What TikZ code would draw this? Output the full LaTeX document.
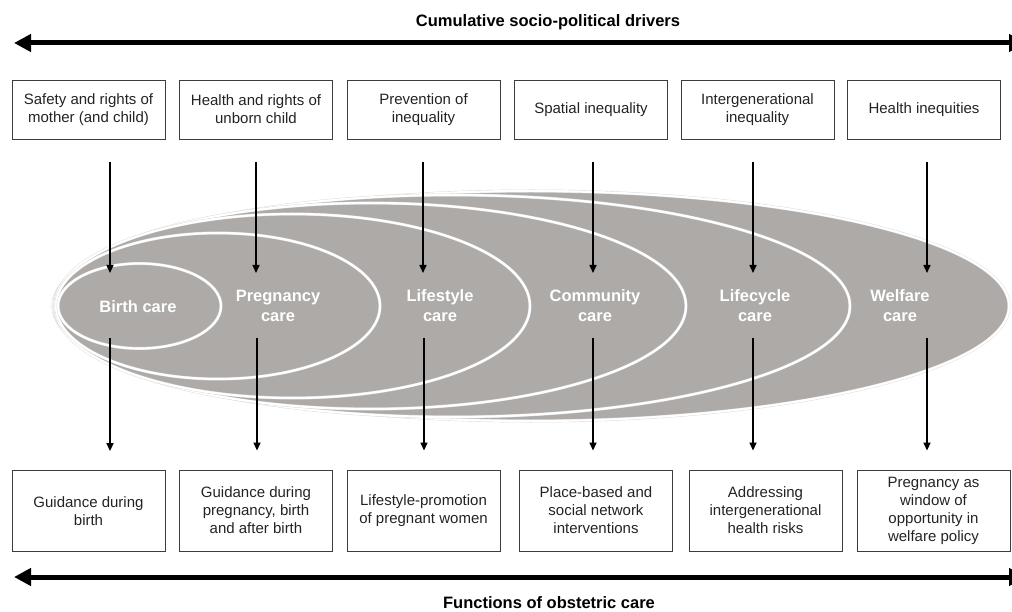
\documentclass[tikz,border=0pt]{standalone}
\usepackage{fontspec}
\setmainfont{Liberation Sans}
\usetikzlibrary{shapes.geometric,arrows.meta}
\definecolor{caregray}{RGB}{173,170,168}
\definecolor{boxline}{RGB}{60,60,60}
\definecolor{ink}{RGB}{35,35,35}

\begin{document}
\begin{tikzpicture}
[every node/.style={inner sep=0pt},
 box/.style={rectangle, draw=boxline, line width=0.9pt, minimum width=153pt, align=center, text=ink, font=\fontsize{15}{18}\selectfont},
 drvbox/.style={box, minimum height=59pt},
 fnbox/.style={box, minimum height=81pt},
 ring/.style={ellipse, fill=caregray, draw=black!15, line width=0.4pt, double=white, double distance=2.2pt},
 care/.style={align=center, text=white, font=\fontsize{16.5}{20}\selectfont\bfseries},
 heading/.style={text=black, font=\fontsize{16.5}{20}\selectfont\bfseries},
 drop/.style={line width=1.5pt, -{Triangle[length=8pt,width=7pt]}, color=black},
 spine/.style={line width=5pt, {Triangle[length=17pt,width=17pt]}-{Triangle[length=17pt,width=17pt]}, color=black}]
\useasboundingbox (0pt, 0pt) rectangle (1012pt, -612pt);
\node (top) [heading] at (548pt, -22pt) {Cumulative socio-political drivers};
\node (bottom) [heading] at (549pt, -603pt) {Functions of obstetric care};
\coordinate (tl) at (14pt, -43pt);
\coordinate (tr) at (1026pt, -43pt);
\coordinate (bl) at (14pt, -577pt);
\coordinate (br) at (1026pt, -577pt);
\draw [spine] (tl) to (tr);
\draw [spine] (bl) to (br);
\node (d1) [drvbox] at (88.5pt, -109.5pt) {Safety and rights of\\mother (and child)};
\node (d2) [drvbox] at (256pt, -109.5pt) {Health and rights of\\unborn child};
\node (d3) [drvbox] at (423.5pt, -109.5pt) {Prevention of\\inequality};
\node (d4) [drvbox] at (591pt, -109.5pt) {Spatial inequality};
\node (d5) [drvbox] at (757.5pt, -109.5pt) {Intergenerational\\inequality};
\node (d6) [drvbox] at (924pt, -109.5pt) {Health inequities};
\node (e6) [ring, minimum width=956pt, minimum height=230pt] at (531pt, -306pt) {};
\node (e5) [ring, minimum width=796pt, minimum height=222pt] at (452pt, -306pt) {};
\node (e4) [ring, minimum width=631pt, minimum height=206pt] at (370.5pt, -306pt) {};
\node (e3) [ring, minimum width=475pt, minimum height=184pt] at (292.5pt, -306pt) {};
\node (e2) [ring, minimum width=324pt, minimum height=146pt] at (218pt, -306pt) {};
\node (e1) [ring, minimum width=163pt, minimum height=85pt] at (139.5pt, -306pt) {};
\node (c1) [care] at (138pt, -307pt) {Birth care};
\node (c2) [care] at (278pt, -306pt) {Pregnancy\\care};
\node (c3) [care] at (440pt, -306pt) {Lifestyle\\care};
\node (c4) [care] at (595pt, -306pt) {Community\\care};
\node (c5) [care] at (755pt, -306pt) {Lifecycle\\care};
\node (c6) [care] at (900pt, -306pt) {Welfare\\care};
\node (f1) [fnbox] at (88.5pt, -511pt) {Guidance during\\birth};
\node (f2) [fnbox] at (256pt, -510.5pt) {Guidance during\\pregnancy, birth\\and after birth};
\node (f3) [fnbox] at (423.5pt, -510.5pt) {Lifestyle-promotion\\of pregnant women};
\node (f4) [fnbox] at (596pt, -510.5pt) {Place-based and\\social network\\interventions};
\node (f5) [fnbox] at (765.5pt, -510.5pt) {Addressing\\intergenerational\\health risks};
\node (f6) [fnbox] at (933.5pt, -510.5pt) {Pregnancy as\\window of\\opportunity in\\welfare policy};
\coordinate (i1) at (110pt, -273pt);
\coordinate (i2) at (256pt, -273pt);
\coordinate (i3) at (423pt, -273pt);
\coordinate (i4) at (593pt, -273pt);
\coordinate (i5) at (753pt, -273pt);
\coordinate (i6) at (927pt, -273pt);
\coordinate (o1) at (110pt, -338pt);
\coordinate (o2) at (257pt, -338pt);
\coordinate (o3) at (424pt, -338pt);
\coordinate (o4) at (593pt, -338pt);
\coordinate (o5) at (753pt, -338pt);
\coordinate (o6) at (927pt, -338pt);
\draw [drop, shorten <=23pt] (d1.south -| i1) to (i1);
\draw [drop, shorten <=23pt] (d2.south -| i2) to (i2);
\draw [drop, shorten <=23pt] (d3.south -| i3) to (i3);
\draw [drop, shorten <=23pt] (d4.south -| i4) to (i4);
\draw [drop, shorten <=23pt] (d5.south -| i5) to (i5);
\draw [drop, shorten <=23pt] (d6.south -| i6) to (i6);
\draw [drop, shorten >=19pt] (o1) to (o1 |- f1.north);
\draw [drop, shorten >=19pt] (o2) to (o2 |- f2.north);
\draw [drop, shorten >=19pt] (o3) to (o3 |- f3.north);
\draw [drop, shorten >=19pt] (o4) to (o4 |- f4.north);
\draw [drop, shorten >=19pt] (o5) to (o5 |- f5.north);
\draw [drop, shorten >=19pt] (o6) to (o6 |- f6.north);
\end{tikzpicture}
\end{document}
